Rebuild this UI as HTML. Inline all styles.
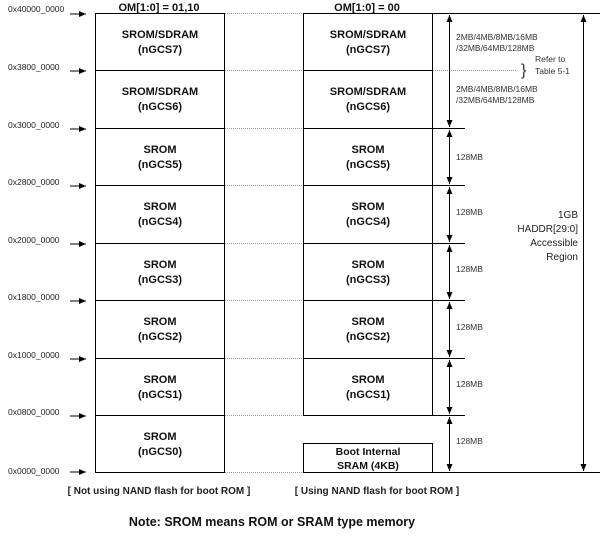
<!DOCTYPE html>
<html><head><meta charset="utf-8"><style>
html,body{margin:0;padding:0;background:#fff;}
svg{display:block;font-family:"Liberation Sans",Arial,sans-serif;}
.b{font-weight:bold;font-size:11px;fill:#111;text-anchor:middle;}
.a{font-size:8.5px;fill:#222;}
.m{font-size:8.5px;fill:#333;}
</style></head><body>
<svg width="604" height="537" viewBox="0 0 604 537" xmlns="http://www.w3.org/2000/svg">
<defs>
<marker id="ah" markerWidth="8" markerHeight="8" refX="7" refY="4" orient="auto-start-reverse" markerUnits="userSpaceOnUse"><path d="M0,1 L7,4 L0,7 z" fill="#000"/></marker>
</defs>
<g stroke="#000" stroke-width="1" fill="none">
<rect x="95.5" y="13.5" width="129" height="459"/>
<line x1="95" y1="70.5" x2="225" y2="70.5"/>
<line x1="95" y1="128.5" x2="225" y2="128.5"/>
<line x1="95" y1="185.5" x2="225" y2="185.5"/>
<line x1="95" y1="243.5" x2="225" y2="243.5"/>
<line x1="95" y1="300.5" x2="225" y2="300.5"/>
<line x1="95" y1="358.5" x2="225" y2="358.5"/>
<line x1="95" y1="415.5" x2="225" y2="415.5"/>
<rect x="303.5" y="13.5" width="129" height="402"/>
<line x1="303" y1="70.5" x2="433" y2="70.5"/>
<line x1="303" y1="128.5" x2="433" y2="128.5"/>
<line x1="303" y1="185.5" x2="433" y2="185.5"/>
<line x1="303" y1="243.5" x2="433" y2="243.5"/>
<line x1="303" y1="300.5" x2="433" y2="300.5"/>
<line x1="303" y1="358.5" x2="433" y2="358.5"/>
<rect x="303.5" y="443.5" width="129" height="29"/>
<line x1="432" y1="128.5" x2="465" y2="128.5"/>
<line x1="432" y1="185.5" x2="465" y2="185.5"/>
<line x1="432" y1="243.5" x2="465" y2="243.5"/>
<line x1="432" y1="300.5" x2="465" y2="300.5"/>
<line x1="432" y1="358.5" x2="465" y2="358.5"/>
<line x1="432" y1="415.5" x2="465" y2="415.5"/>
<line x1="432" y1="13.5" x2="600" y2="13.5"/>
<line x1="303" y1="472.5" x2="600" y2="472.5"/>
</g>
<g stroke="#999" stroke-width="1" stroke-dasharray="1,1">
<line x1="225" y1="13.5" x2="303" y2="13.5"/>
<line x1="225" y1="70.5" x2="303" y2="70.5"/>
<line x1="225" y1="128.5" x2="303" y2="128.5"/>
<line x1="225" y1="185.5" x2="303" y2="185.5"/>
<line x1="225" y1="243.5" x2="303" y2="243.5"/>
<line x1="225" y1="300.5" x2="303" y2="300.5"/>
<line x1="225" y1="358.5" x2="303" y2="358.5"/>
<line x1="225" y1="415.5" x2="303" y2="415.5"/>
<line x1="225" y1="472.5" x2="303" y2="472.5"/>
<line x1="433" y1="70.5" x2="516" y2="70.5"/>
</g>
<g stroke="#000" stroke-width="1" marker-start="url(#ah)" marker-end="url(#ah)">
<line x1="449.5" y1="15" x2="449.5" y2="127"/>
<line x1="449.5" y1="130" x2="449.5" y2="184"/>
<line x1="449.5" y1="187" x2="449.5" y2="242"/>
<line x1="449.5" y1="245" x2="449.5" y2="299"/>
<line x1="449.5" y1="302" x2="449.5" y2="357"/>
<line x1="449.5" y1="360" x2="449.5" y2="414"/>
<line x1="449.5" y1="417" x2="449.5" y2="471"/>
<line x1="583.5" y1="15" x2="583.5" y2="471"/>
</g>
<g stroke="#000" stroke-width="1" marker-end="url(#ah)">
<line x1="70" y1="14" x2="86" y2="14"/>
<line x1="70" y1="71" x2="86" y2="71"/>
<line x1="70" y1="129" x2="86" y2="129"/>
<line x1="70" y1="186" x2="86" y2="186"/>
<line x1="70" y1="244" x2="86" y2="244"/>
<line x1="70" y1="301" x2="86" y2="301"/>
<line x1="70" y1="359" x2="86" y2="359"/>
<line x1="70" y1="416" x2="86" y2="416"/>
<line x1="70" y1="472" x2="86" y2="472"/>
</g>
<g class="a">
<text x="8" y="12">0x40000_0000</text>
<text x="8" y="70">0x3800_0000</text>
<text x="8" y="128">0x3000_0000</text>
<text x="8" y="185">0x2800_0000</text>
<text x="8" y="243">0x2000_0000</text>
<text x="8" y="300">0x1800_0000</text>
<text x="8" y="358">0x1000_0000</text>
<text x="8" y="415">0x0800_0000</text>
<text x="8" y="474">0x0000_0000</text>
</g>
<text class="b" x="159" y="11">OM[1:0] = 01,10</text>
<text class="b" x="367" y="11">OM[1:0] = 00</text>
<g class="b">
<text x="160" y="38">SROM/SDRAM</text><text x="160" y="53">(nGCS7)</text>
<text x="160" y="95">SROM/SDRAM</text><text x="160" y="110">(nGCS6)</text>
<text x="160" y="153">SROM</text><text x="160" y="168">(nGCS5)</text>
<text x="160" y="210">SROM</text><text x="160" y="225">(nGCS4)</text>
<text x="160" y="268">SROM</text><text x="160" y="283">(nGCS3)</text>
<text x="160" y="325">SROM</text><text x="160" y="340">(nGCS2)</text>
<text x="160" y="383">SROM</text><text x="160" y="398">(nGCS1)</text>
<text x="160" y="440">SROM</text><text x="160" y="455">(nGCS0)</text>
<text x="368" y="38">SROM/SDRAM</text><text x="368" y="53">(nGCS7)</text>
<text x="368" y="95">SROM/SDRAM</text><text x="368" y="110">(nGCS6)</text>
<text x="368" y="153">SROM</text><text x="368" y="168">(nGCS5)</text>
<text x="368" y="210">SROM</text><text x="368" y="225">(nGCS4)</text>
<text x="368" y="268">SROM</text><text x="368" y="283">(nGCS3)</text>
<text x="368" y="325">SROM</text><text x="368" y="340">(nGCS2)</text>
<text x="368" y="383">SROM</text><text x="368" y="398">(nGCS1)</text>
<text x="368" y="455" style="font-size:10.5px">Boot Internal</text><text x="368" y="469" style="font-size:10.5px">SRAM (4KB)</text>
</g>
<g class="m">
<text x="456" y="40">2MB/4MB/8MB/16MB</text>
<text x="456" y="51">/32MB/64MB/128MB</text>
<text x="456" y="92">2MB/4MB/8MB/16MB</text>
<text x="456" y="103">/32MB/64MB/128MB</text>
<text x="535" y="62">Refer to</text>
<text x="535" y="74">Table 5-1</text>
<text x="456" y="215">128MB</text>
<text x="456" y="160">128MB</text>
<text x="456" y="272">128MB</text>
<text x="456" y="330">128MB</text>
<text x="456" y="387">128MB</text>
<text x="456" y="444">128MB</text>
</g>
<text x="521" y="75" style="font-size:16px;fill:#333">}</text>
<g style="font-size:10px;fill:#222;text-anchor:end">
<text x="578" y="218">1GB</text>
<text x="578" y="232">HADDR[29:0]</text>
<text x="578" y="246">Accessible</text>
<text x="578" y="260">Region</text>
</g>
<text x="159" y="494" style="font-size:10px;font-weight:bold;text-anchor:middle;fill:#222">[ Not using NAND flash for boot ROM ]</text>
<text x="377" y="494" style="font-size:10px;font-weight:bold;text-anchor:middle;fill:#222">[ Using NAND flash for boot ROM ]</text>
<text x="272" y="526" style="font-size:12.5px;font-weight:bold;text-anchor:middle;fill:#111">Note: SROM means ROM or SRAM type memory</text>
</svg>
</body></html>
